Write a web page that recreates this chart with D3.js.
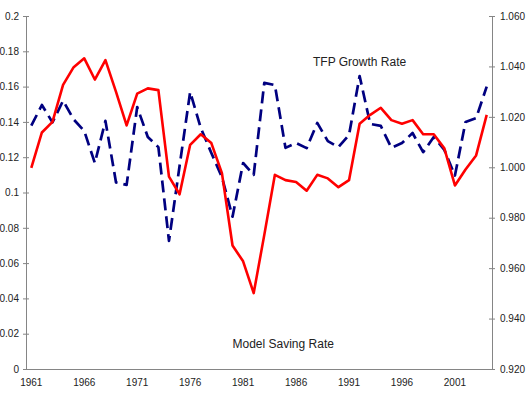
<!DOCTYPE html>
<html>
<head>
<meta charset="utf-8">
<script src="https://cdn.jsdelivr.net/npm/d3@7"></script>
<style>
  html, body { margin: 0; padding: 0; background: #fff; }
  svg { display: block; }
  text { font-family: "Liberation Sans", Arial, sans-serif; fill: #222; }
</style>
</head>
<body>
<svg id="chart" width="531" height="399"></svg>
<script>
const years = d3.range(1961, 2005);
const xTickLabels = ["1961", "1966", "1971", "1976", "1981", "1986", "1991", "1996", "2001"];
const leftTicks = [0, 0.02, 0.04, 0.06, 0.08, 0.1, 0.12, 0.14, 0.16, 0.18, 0.2];
const rightTicks = [0.92, 0.94, 0.96, 0.98, 1.0, 1.02, 1.04, 1.06];

const savingRate = [
  0.114, 0.134, 0.140, 0.161, 0.171, 0.176, 0.164, 0.175, 0.157, 0.138,
  0.156, 0.159, 0.158, 0.109, 0.099, 0.127, 0.133, 0.128, 0.111, 0.070,
  0.061, 0.043, 0.076, 0.110, 0.107, 0.106, 0.101, 0.110, 0.108, 0.103,
  0.107, 0.139, 0.144, 0.148, 0.141, 0.139, 0.141, 0.133, 0.133, 0.125,
  0.104, 0.113, 0.121, 0.144
];
const tfpGrowth = [
  1.0165, 1.0247, 1.0178, 1.0264, 1.0190, 1.0144, 1.0017, 1.0184, 0.9940, 0.9930,
  1.0239, 1.0120, 1.0080, 0.9708, 1.0005, 1.0299, 1.0156, 1.0057, 0.9961, 0.9804,
  1.0017, 0.9970, 1.0335, 1.0326, 1.0077, 1.0096, 1.0076, 1.0176, 1.0104, 1.0080,
  1.0128, 1.0362, 1.0172, 1.0164, 1.0077, 1.0096, 1.0136, 1.0060, 1.0120, 1.0069,
  0.9967, 1.0180, 1.0195, 1.0320
];

const svg = d3.select("#chart");
const m = { left: 26, right: 492, top: 16, bottom: 369 };

const x = d3.scaleBand().domain(years).range([m.left, m.right]);
const yL = d3.scaleLinear().domain([0, 0.2]).range([m.bottom, m.top]);
const yR = d3.scaleLinear().domain([0.92, 1.06]).range([m.bottom, m.top]);
const cx = d => x(d) + x.bandwidth() / 2;

const axisColor = "#858585";

// left axis
const gL = svg.append("g").attr("transform", `translate(${m.left},0)`)
  .call(d3.axisLeft(yL).tickValues(leftTicks).tickSize(3).tickSizeOuter(0)
    .tickFormat(d => d === 0 ? "0" : String(+d.toFixed(2))));
gL.select(".domain").attr("stroke", axisColor);
gL.selectAll(".tick line").attr("stroke", axisColor).attr("x2", -3).attr("x1", 3);
gL.selectAll(".tick text").attr("x", -7).style("font-size", "10px")
  .style("font-family", "Liberation Sans, Arial, sans-serif").attr("fill", "#222");

// right axis
const gR = svg.append("g").attr("transform", `translate(${m.right},0)`)
  .call(d3.axisRight(yR).tickValues(rightTicks).tickSize(3).tickSizeOuter(0)
    .tickFormat(d3.format(".3f")));
gR.select(".domain").attr("stroke", axisColor);
gR.selectAll(".tick line").attr("stroke", axisColor).attr("x1", -3).attr("x2", 3);
gR.selectAll(".tick text").attr("x", 8).style("font-size", "10px")
  .style("font-family", "Liberation Sans, Arial, sans-serif").attr("fill", "#222");

// bottom axis
const gB = svg.append("g").attr("transform", `translate(0,${m.bottom})`)
  .call(d3.axisBottom(x).tickValues(xTickLabels.map(Number)).tickSize(0).tickSizeOuter(0));
gB.select(".domain").attr("stroke", axisColor);
gB.selectAll(".tick text").attr("y", 10).attr("dy", "0.71em").style("font-size", "10px")
  .style("font-family", "Liberation Sans, Arial, sans-serif").attr("fill", "#222");

// lines
const lineL = d3.line().x((d, i) => cx(years[i])).y(d => yL(d));
const lineR = d3.line().x((d, i) => cx(years[i])).y(d => yR(d));

svg.append("path").datum(tfpGrowth)
  .attr("d", lineR).attr("fill", "none").attr("stroke", "#000080")
  .attr("stroke-width", 2.7).attr("stroke-dasharray", "12,6")
  .attr("stroke-linejoin", "round");

svg.append("path").datum(savingRate)
  .attr("d", lineL).attr("fill", "none").attr("stroke", "#ff0000")
  .attr("stroke-width", 2.6).attr("stroke-linejoin", "round");

// labels
svg.append("text").attr("x", 313).attr("y", 66).style("font-size", "12px").text("TFP Growth Rate");
svg.append("text").attr("x", 232.5).attr("y", 348).style("font-size", "12px").text("Model Saving Rate");
</script>
</body>
</html>
